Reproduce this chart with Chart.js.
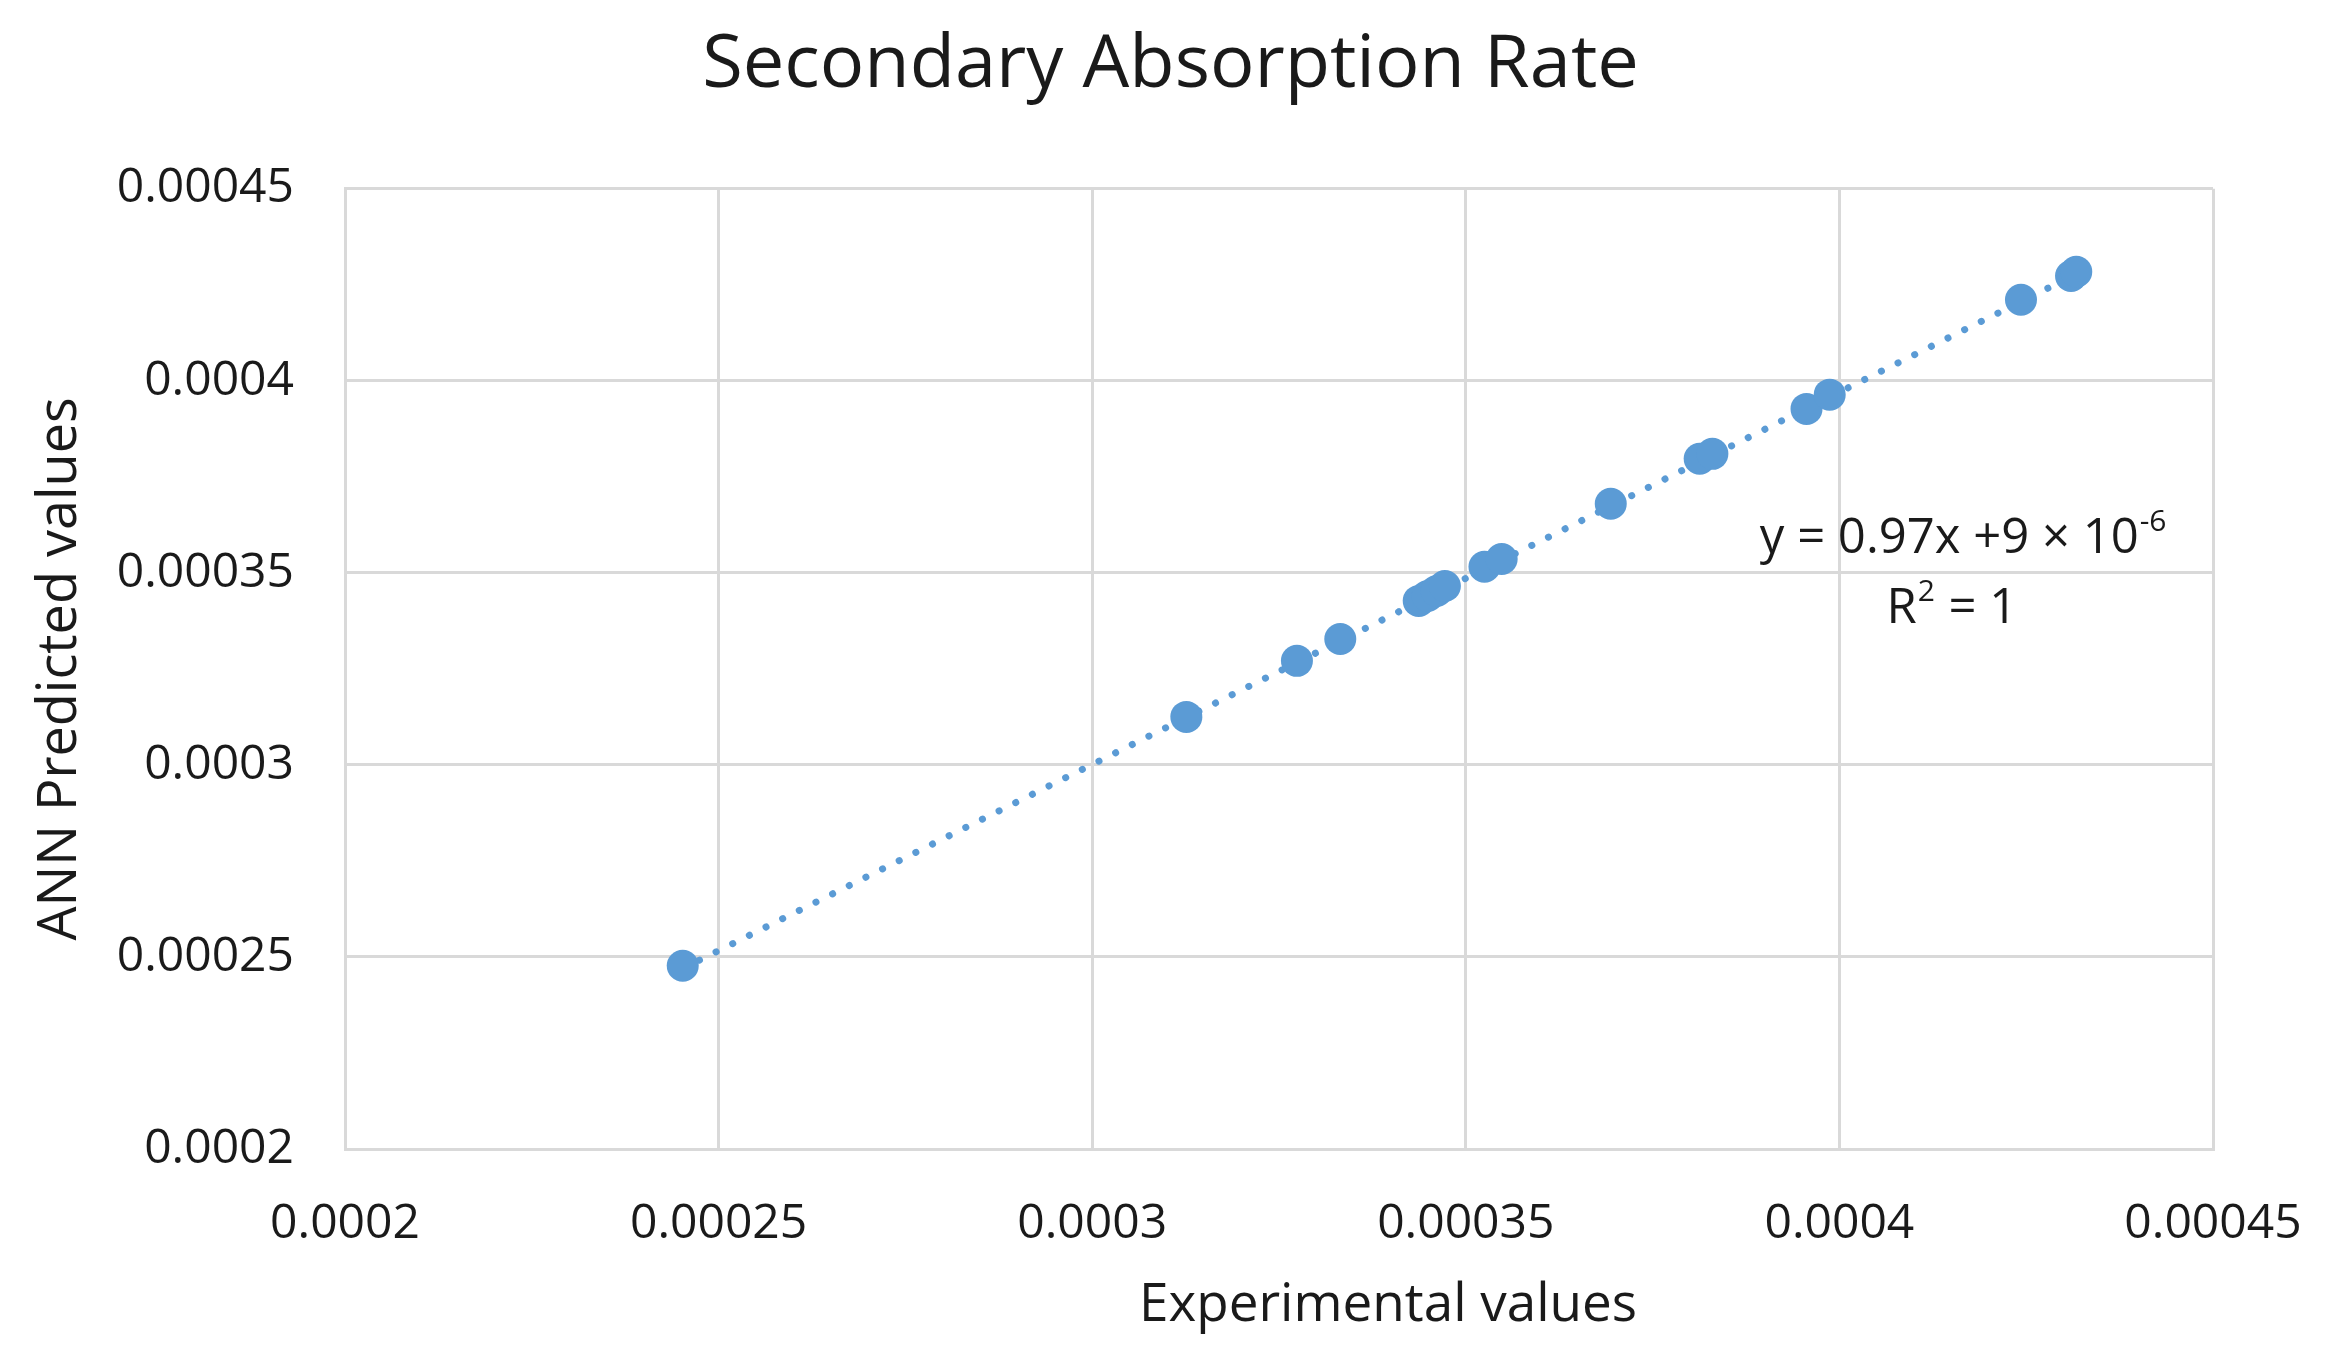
<!DOCTYPE html>
<html>
<head>
<meta charset="utf-8">
<script src="https://cdn.jsdelivr.net/npm/chart.js@4.4.1/dist/chart.umd.min.js"></script>
<style>
  html, body { margin: 0; padding: 0; background: #fff; }
  #wrap { width: 2325px; height: 1350px; }
</style>
</head>
<body>
<div id="wrap"><canvas id="chart" width="2325" height="1350"></canvas></div>
<script>
  // values
  var expValues = [0.0002452, 0.0003126, 0.0003274, 0.0003332, 0.0003437, 0.0003449, 0.0003461, 0.0003472,
    0.0003525, 0.0003548, 0.0003694, 0.0003813, 0.000383, 0.0003956, 0.0003987, 0.0004243, 0.000431, 0.0004317];
  var annValues = [0.0002477, 0.0003125, 0.0003271, 0.0003328, 0.0003427, 0.000344, 0.0003453, 0.0003466,
    0.0003516, 0.0003536, 0.000368, 0.0003797, 0.000381, 0.0003927, 0.0003964, 0.0004211, 0.0004273, 0.0004284];
  var trendX = [0.0002452, 0.0004317];
  var trendY = [0.000247, 0.0004278];
  var xTickLabels = ['0.0002', '0.00025', '0.0003', '0.00035', '0.0004', '0.00045'];
  var yTickLabels = ['0.0002', '0.00025', '0.0003', '0.00035', '0.0004', '0.00045'];

  var FONT = "'Open Sans'";
  var TEXT = '#1a1a1a';
  var BLUE = '#5b9bd5';
  var GRID = '#d9d9d9';

  function pairs(xs, ys) {
    return xs.map(function (x, i) { return { x: x, y: ys[i] }; });
  }

  // trendline label and x axis title, drawn as text on top of the chart
  var notes = {
    id: 'notes',
    afterLayout: function (chart) {
      // the title sits a little right of the canvas centre in the original
      var t = chart.titleBlock;
      if (t) { t.left += 50; t.right += 50; }
    },
    afterDraw: function (chart) {
      var ctx = chart.ctx, a = chart.chartArea;
      var w = a.right - a.left, h = a.bottom - a.top;
      ctx.save();
      ctx.fillStyle = TEXT;
      ctx.textBaseline = 'alphabetic';

      var big = '49px ' + FONT, small = '30px ' + FONT;
      var line1 = 'y = 0.97x +9 × 10', sup1 = '-6';
      ctx.font = big; var w1 = ctx.measureText(line1).width;
      ctx.font = small; var s1 = ctx.measureText(sup1).width;
      var cx = a.left + w * 0.866, by = a.top + h * 0.379;
      var x0 = cx - (w1 + s1) / 2;
      ctx.font = big; ctx.textAlign = 'left'; ctx.fillText(line1, x0, by);
      ctx.font = small; ctx.fillText(sup1, x0 + w1 + 1, by - 22);

      var r = 'R', sup2 = '2', rest = ' = 1';
      ctx.font = big; var wr = ctx.measureText(r).width, wrest = ctx.measureText(rest).width;
      ctx.font = small; var s2 = ctx.measureText(sup2).width;
      var cx2 = a.left + w * 0.8597, by2 = a.top + h * 0.452;
      var x2 = cx2 - (wr + s2 + wrest) / 2;
      ctx.font = big; ctx.fillText(r, x2, by2);
      ctx.font = small; ctx.fillText(sup2, x2 + wr + 1, by2 - 22);
      ctx.font = big; ctx.fillText(rest, x2 + wr + s2 + 2, by2);

      ctx.font = '53px ' + FONT;
      ctx.textAlign = 'center';
      ctx.textBaseline = 'middle';
      ctx.fillText('Experimental values', a.left + w * 0.5584, 1306);
      ctx.restore();
    }
  };

  new Chart(document.getElementById('chart').getContext('2d'), {
    type: 'scatter',
    data: {
      datasets: [
        {
          label: 'ANN',
          data: pairs(expValues, annValues),
          backgroundColor: BLUE,
          borderWidth: 0,
          pointRadius: 16,
          pointHoverRadius: 16
        },
        {
          label: 'Linear trend',
          data: pairs(trendX, trendY),
          showLine: true,
          borderColor: BLUE,
          borderWidth: 7,
          borderDash: [0.1, 18.5],
          borderCapStyle: 'round',
          pointRadius: 0,
          fill: false
        }
      ]
    },
    options: {
      responsive: false,
      devicePixelRatio: 1,
      animation: false,
      layout: { padding: { left: 28, right: 112, top: 0, bottom: 0 } },
      plugins: {
        legend: { display: false },
        tooltip: { enabled: false },
        title: {
          display: true,
          text: 'Secondary Absorption Rate',
          color: TEXT,
          font: { family: FONT, size: 74, weight: 'normal' },
          padding: { top: 22, bottom: 78 }
        }
      },
      scales: {
        x: {
          type: 'linear',
          min: 0.0002, max: 0.00045,
          afterFit: function (s) { s.height = 201; s.paddingLeft = 0; s.paddingRight = 0; },
          grid: { color: GRID, lineWidth: 3, drawTicks: false },
          border: { color: GRID, width: 3 },
          ticks: {
            stepSize: 0.00005,
            padding: 47,
            color: TEXT,
            font: { family: FONT, size: 48 },
            callback: function (v, i) { return xTickLabels[i]; }
          }
        },
        y: {
          type: 'linear',
          min: 0.0002, max: 0.00045,
          afterFit: function (s) { s.width = 317; },
          grid: { color: GRID, lineWidth: 3, drawTicks: false },
          border: { color: GRID, width: 3 },
          ticks: {
            stepSize: 0.00005,
            padding: 51,
            color: TEXT,
            font: { family: FONT, size: 48 },
            callback: function (v, i) { return yTickLabels[i]; }
          },
          title: {
            display: true,
            text: 'ANN Predicted values',
            color: TEXT,
            font: { family: FONT, size: 54 },
            padding: { top: 0, bottom: 0 }
          }
        }
      }
    },
    plugins: [notes]
  });
</script>
</body>
</html>
